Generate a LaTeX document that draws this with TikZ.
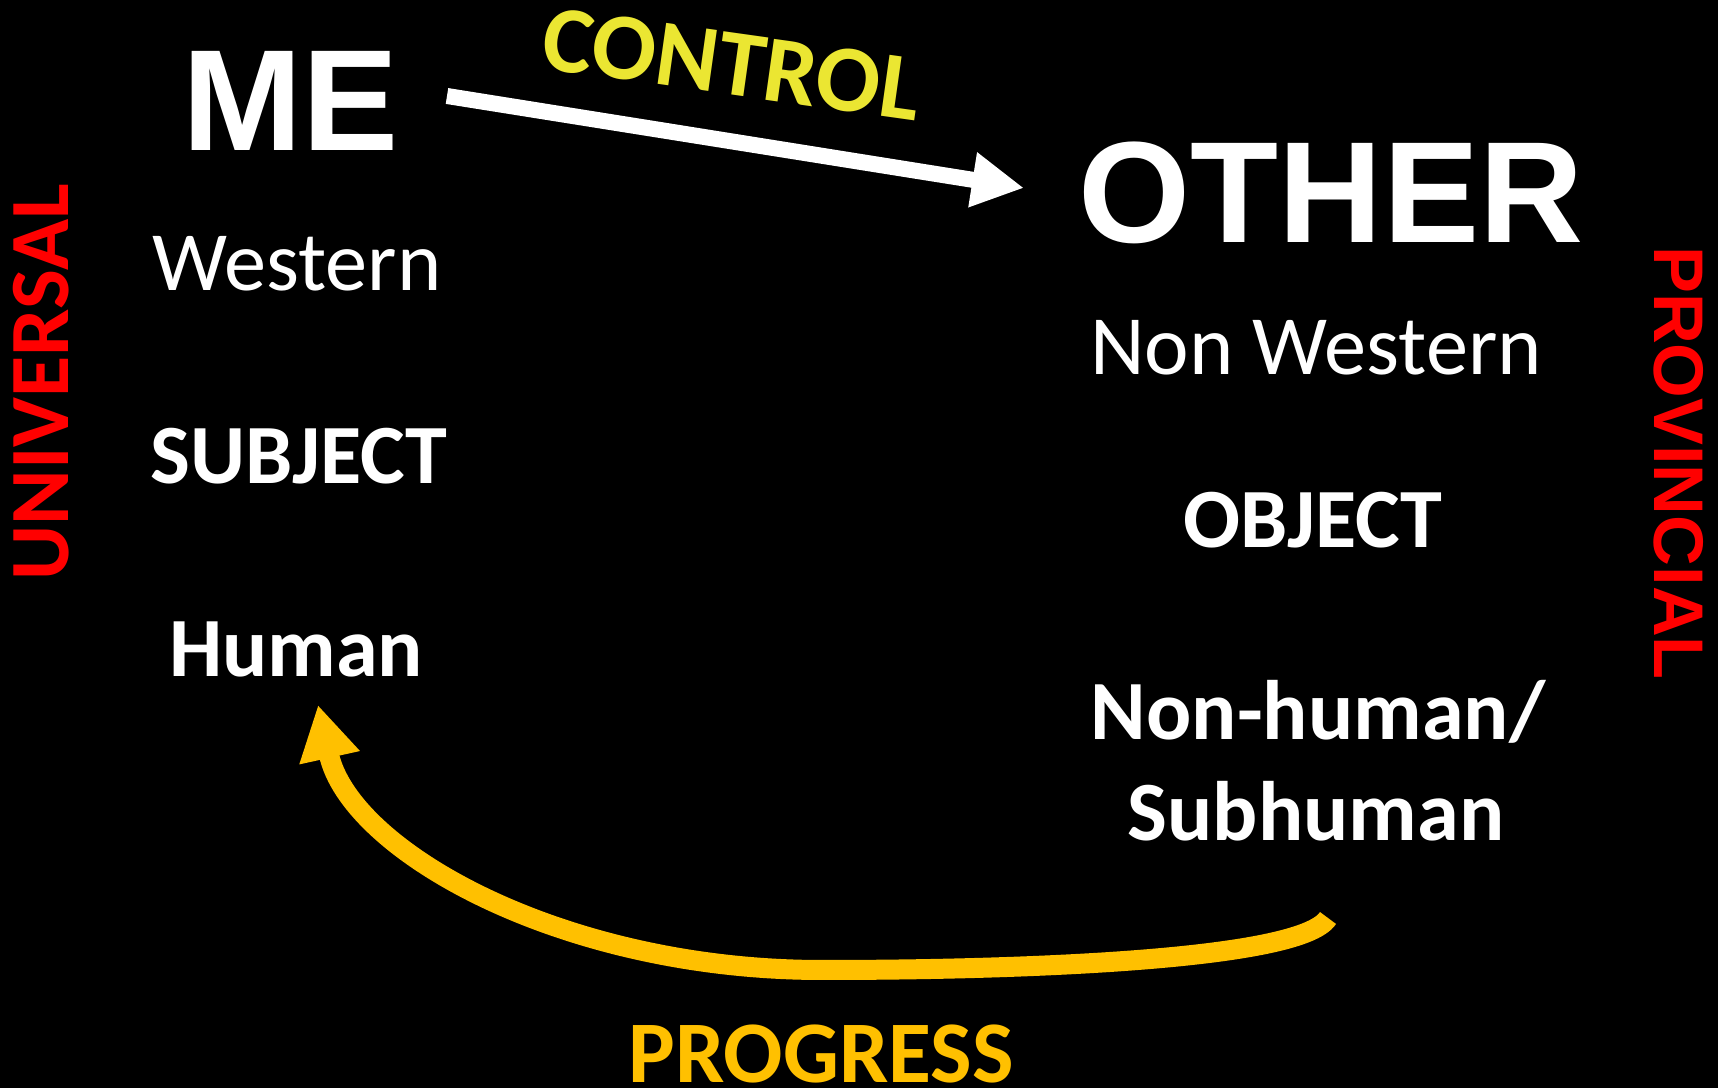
\documentclass[tikz,border=0pt]{standalone}
\usepackage{fontspec}
\setmainfont{Carlito}
\newfontfamily\arialfont{Liberation Sans}
\usetikzlibrary{arrows.meta}
\definecolor{ctrlyellow}{RGB}{235,230,50}
\definecolor{progyellow}{RGB}{255,192,0}
\definecolor{sidered}{RGB}{255,0,0}

\begin{document}
\begin{tikzpicture}[x=0.1mm, y=-0.1mm,
  word/.style={text=white, anchor=base, inner sep=0pt},
  big/.style={word, font=\arialfont\bfseries\fontsize{41}{45}\selectfont},
  plain/.style={word, font=\fontsize{24}{28}\selectfont},
  strong/.style={word, font=\bfseries\fontsize{24}{28}\selectfont}]

% sfondo
\useasboundingbox (0,0) rectangle (1718,1088);
\fill[black] (0,0) rectangle (1718,1088);

% ME (colonna sinistra)
\node[big] (me) at (291,151) {ME};
\node[plain] (west) at (297,291) {Western};
\node[strong] (subj) at (299,484) {SUBJECT};
\node[strong] (human) at (296,677) {Human};

% OTHER (colonna destra)
\node[big] (other) at (1331,243) {OTHER};
\node[plain] (nonwest) at (1316,375) {Non Western};
\node[strong] (obj) at (1313,548) {OBJECT};
\node[strong] (nonhum) at (1318,740) {Non-human/};
\node[strong] (subhum) at (1316,841) {Subhuman};

% scritte laterali
\node[text=sidered, inner sep=0pt, font=\bfseries\fontsize{24}{28}\selectfont, rotate=90] (univ) at (41,382) {UNIVERSAL};
\node[text=sidered, inner sep=0pt, font=\arialfont\bfseries\fontsize{20}{24}\selectfont, rotate=-90] (prov) at (1679,463) {PROVINCIAL};

% freccia control: ME -> OTHER
\coordinate (ctrlA) at (447,96);
\coordinate (ctrlB) at (1024,188);
\draw[white, line width=1.6mm, -{Triangle[length=5.2mm,width=5.2mm]}] (ctrlA) -- (ctrlB);
\node[text=ctrlyellow, inner sep=0pt, font=\bfseries\fontsize{27}{30}\selectfont, rotate=-8] (ctrl) at (732,64) {CONTROL};

% freccia progress: Subhuman -> Human
\coordinate (progA) at (1328,918);
\coordinate (progB) at (318,705);
\draw[progyellow, line width=2mm, -{Triangle[length=5.4mm,width=5.8mm]}]
  (progA) .. controls (1300,962) and (1000,970) .. (822,970)
  .. controls (560,970) and (350,850) .. (progB);
\node[text=progyellow, inner sep=0pt, font=\bfseries\fontsize{25}{28}\selectfont, anchor=base] (prog) at (821,1083) {PROGRESS};

\end{tikzpicture}
\end{document}
